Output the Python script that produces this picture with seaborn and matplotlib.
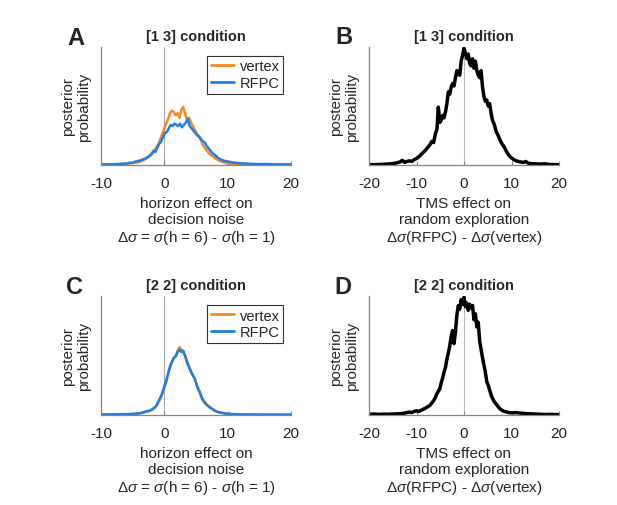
import numpy as np
import pandas as pd
import matplotlib
matplotlib.use("Agg")
import matplotlib.pyplot as plt
import seaborn as sns

# ---- data (normalised posterior, peak of B/D = 1) ----
# panel A: [1 3] condition, horizon effect
a_vertex_x = [-10, -8, -6, -5, -4, -3.5, -3, -2.5, -2, -1.5, -1, -0.6, -0.3,
              0, 0.3, 0.6, 0.9, 1.2, 1.5, 1.8, 2.1, 2.4, 2.7, 3.0, 3.3, 3.6, 3.9,
              4.2, 4.5, 4.8, 5.1, 5.4, 5.7, 6.0, 6.3, 6.6, 6.9, 7.2, 7.5,
              8, 8.5, 9, 9.5, 10, 11, 12, 14, 16, 18, 20]
a_vertex_y = [0.004, 0.006, 0.01, 0.015, 0.025, 0.035, 0.05, 0.07, 0.1, 0.13, 0.17, 0.22, 0.27,
              0.31, 0.35, 0.39, 0.44, 0.46, 0.45, 0.42, 0.44, 0.40, 0.47, 0.49, 0.43, 0.38, 0.40,
              0.36, 0.33, 0.30, 0.27, 0.25, 0.22, 0.18, 0.15, 0.13, 0.11, 0.09, 0.08,
              0.06, 0.04, 0.03, 0.02, 0.012, 0.008, 0.006, 0.004, 0.003, 0.002, 0.002]
a_rfpc_x = [-10, -9, -8, -7, -6, -5.5, -5, -4.5, -4, -3.5, -3, -2.5, -2,
            -1.7, -1.4, -1.1, -0.8, -0.5, -0.2, 0.1, 0.4, 0.7, 1.0, 1.3, 1.6, 1.9, 2.2,
            2.5, 2.8, 3.1, 3.4, 3.7, 4.0, 4.3, 4.6, 4.9, 5.2, 5.5, 5.8, 6.1, 6.4, 6.7,
            7.0, 7.3, 7.6, 8.0, 8.5, 9, 9.5, 10, 10.5, 11,
            12, 13, 14, 15, 16, 17, 18, 19, 20]
a_rfpc_y = [0.004, 0.006, 0.005, 0.009, 0.012, 0.018, 0.02, 0.03, 0.035, 0.045, 0.055, 0.07, 0.09,
            0.12, 0.11, 0.15, 0.18, 0.2, 0.24, 0.27, 0.28, 0.31, 0.34, 0.33, 0.35, 0.34, 0.33,
            0.35, 0.32, 0.34, 0.36, 0.39, 0.33, 0.31, 0.29, 0.27, 0.25, 0.24, 0.22, 0.2, 0.19, 0.16,
            0.14, 0.12, 0.1, 0.085, 0.06, 0.045, 0.035, 0.03, 0.025, 0.02,
            0.015, 0.012, 0.01, 0.008, 0.008, 0.006, 0.005, 0.006, 0.004]

# panel B: [1 3] condition, TMS effect
b_x = [-20, -19, -18, -17, -16, -15,
       -14.5, -14, -13.5, -13, -12.5, -12, -11.5, -11, -10.5, -10, -9.5, -9, -8.5, -8,
       -7.6, -7.2, -6.8, -6.4, -6.0,
       -5.7, -5.4, -5.1, -4.8, -4.5, -4.2, -3.9, -3.6, -3.3, -3.0, -2.7, -2.4, -2.1, -1.8,
       -1.5, -1.2, -0.9, -0.6, -0.3, 0, 0.3, 0.6, 0.9, 1.2, 1.5, 1.8, 2.1, 2.4, 2.7, 3.0,
       3.3, 3.6, 3.9, 4.2, 4.5, 4.8, 5.1, 5.4, 5.7, 6.0,
       6.4, 6.8, 7.2, 7.6, 8.0,
       8.5, 9, 9.5, 10, 10.5, 11, 11.5, 12, 12.5, 13, 13.5, 14,
       15, 16, 17, 18, 19, 20]
b_y = [0.002, 0.003, 0.004, 0.006, 0.008, 0.012,
       0.015, 0.02, 0.025, 0.04, 0.022, 0.03, 0.035, 0.03, 0.045, 0.055, 0.07, 0.09, 0.11, 0.13,
       0.15, 0.17, 0.2, 0.19, 0.27,
       0.3, 0.49, 0.36, 0.38, 0.42, 0.40, 0.45, 0.52, 0.62, 0.60, 0.66, 0.69, 0.67, 0.74,
       0.80, 0.77, 0.76, 0.88, 0.93, 0.99, 0.95, 0.90, 0.94, 0.86, 0.84, 0.90, 0.82, 0.88, 0.80, 0.76,
       0.74, 0.80, 0.66, 0.58, 0.54, 0.55, 0.50, 0.52, 0.44, 0.38,
       0.34, 0.28, 0.25, 0.21, 0.18,
       0.15, 0.11, 0.08, 0.06, 0.045, 0.035, 0.03, 0.025, 0.022, 0.03, 0.015, 0.012,
       0.01, 0.008, 0.01, 0.004, 0.003, 0.002]

# panel C: [2 2] condition, horizon effect
c_x = [-10, -8, -6, -5, -4, -3.5, -3, -2.5, -2, -1.5,
       -1.2, -0.9, -0.6, -0.3, 0, 0.3, 0.6, 0.9, 1.2, 1.5, 1.8, 2.1, 2.4, 2.7, 3.0,
       3.3, 3.6, 3.9, 4.2, 4.5, 4.8, 5.1, 5.4, 5.7, 6.0,
       6.4, 6.8, 7.2, 7.6, 8, 8.5, 9, 9.5, 10, 11, 12, 14, 16, 18, 20]
c_vertex_y = [0.003, 0.004, 0.006, 0.008, 0.012, 0.018, 0.025, 0.03, 0.04, 0.06,
              0.08, 0.11, 0.14, 0.18, 0.23, 0.28, 0.34, 0.40, 0.44, 0.48, 0.50, 0.54, 0.57, 0.55, 0.52,
              0.50, 0.43, 0.41, 0.36, 0.34, 0.30, 0.26, 0.22, 0.17, 0.14,
              0.11, 0.08, 0.06, 0.05, 0.035, 0.025, 0.02, 0.012, 0.01, 0.006, 0.004, 0.003, 0.002, 0.002, 0.002]
c_rfpc_y = [0.004, 0.005, 0.007, 0.009, 0.014, 0.02, 0.028, 0.035, 0.045, 0.065,
            0.085, 0.12, 0.15, 0.19, 0.24, 0.29, 0.35, 0.41, 0.45, 0.48, 0.49, 0.53, 0.55, 0.53, 0.54,
            0.49, 0.45, 0.40, 0.37, 0.33, 0.31, 0.25, 0.21, 0.18, 0.13,
            0.10, 0.08, 0.065, 0.05, 0.035, 0.025, 0.018, 0.014, 0.01, 0.007, 0.005, 0.004, 0.003, 0.003, 0.002]

# panel D: [2 2] condition, TMS effect
d_x = [-20, -19, -18, -17, -16, -15, -14, -13, -12,
       -11.5, -11, -10.5, -10, -9.5, -9, -8.5, -8,
       -7.6, -7.2, -6.8, -6.4, -6.0,
       -5.7, -5.4, -5.1, -4.8, -4.5, -4.2, -3.9, -3.6, -3.3, -3.0, -2.7, -2.4, -2.1, -1.8,
       -1.5, -1.2, -0.9, -0.6, -0.3, 0, 0.3, 0.6, 0.9, 1.2, 1.5, 1.8, 2.1, 2.4, 2.7, 3.0,
       3.3, 3.6, 3.9, 4.2, 4.5, 4.8, 5.1, 5.4, 5.7, 6.0,
       6.4, 6.8, 7.2, 7.6, 8.0, 8.5, 9, 9.5, 10,
       11, 12, 13, 14, 15, 16, 17, 18, 19, 20]
d_y = [0.006, 0.008, 0.005, 0.007, 0.006, 0.008, 0.01, 0.012, 0.02,
       0.025, 0.02, 0.03, 0.035, 0.03, 0.04, 0.05, 0.06,
       0.07, 0.08, 0.1, 0.12, 0.15,
       0.18, 0.2, 0.22, 0.27, 0.31, 0.36, 0.40, 0.47, 0.52, 0.58, 0.66, 0.71, 0.60, 0.70,
       0.84, 0.92, 0.89, 0.97, 0.93, 0.99, 0.91, 0.94, 0.88, 0.93, 0.90, 0.92, 0.80, 0.85, 0.74, 0.78,
       0.62, 0.55, 0.48, 0.42, 0.36, 0.28, 0.25, 0.21, 0.17, 0.14,
       0.11, 0.09, 0.07, 0.05, 0.04, 0.03, 0.025, 0.02, 0.018,
       0.02, 0.015, 0.012, 0.01, 0.008, 0.006, 0.004, 0.005, 0.004, 0.003]

titles = ["[1 3] condition", "[1 3] condition", "[2 2] condition", "[2 2] condition"]
letters = ["A", "B", "C", "D"]
horizon_label = "horizon effect on\ndecision noise\n$\\Delta\\sigma$ = $\\sigma$(h = 6) - $\\sigma$(h = 1)"
tms_label = "TMS effect on\nrandom exploration\n$\\Delta\\sigma$(RFPC) - $\\Delta\\sigma$(vertex)"

ORANGE = "#f08a24"
BLUE = "#1f7fe6"
AXIS_GREY = "#858585"

sns.set_style("ticks")
plt.rcParams["font.family"] = ["Liberation Sans", "DejaVu Sans"]
plt.rcParams["axes.unicode_minus"] = False
plt.rcParams["mathtext.fontset"] = "custom"
plt.rcParams["mathtext.rm"] = "Liberation Sans"
plt.rcParams["mathtext.it"] = "Liberation Sans:italic"

fig = plt.figure(figsize=(6.17, 5.06), dpi=100)
W, H = 617, 506


def make_ax(left, top, right, bottom):
    return fig.add_axes([left / W, 1 - bottom / H, (right - left) / W, (bottom - top) / H])


ax_a = make_ax(101, 48, 291, 166)
ax_b = make_ax(369, 48, 559, 166)
ax_c = make_ax(101, 297, 291, 416)
ax_d = make_ax(369, 297, 559, 416)
axes = [ax_a, ax_b, ax_c, ax_d]

# horizon panels: vertex vs RFPC
df_a = pd.concat([
    pd.DataFrame({"x": a_vertex_x, "y": a_vertex_y, "site": "vertex"}),
    pd.DataFrame({"x": a_rfpc_x, "y": a_rfpc_y, "site": "RFPC"}),
])
df_c = pd.concat([
    pd.DataFrame({"x": c_x, "y": c_vertex_y, "site": "vertex"}),
    pd.DataFrame({"x": c_x, "y": c_rfpc_y, "site": "RFPC"}),
])
for ax, df in [(ax_a, df_a), (ax_c, df_c)]:
    ax.axvline(0, color="#a8a8a8", lw=0.8, zorder=0)
    sns.lineplot(data=df, x="x", y="y", hue="site", palette={"vertex": ORANGE, "RFPC": BLUE},
                 sort=False, estimator=None, lw=1.8, ax=ax)
    ax.set_xlim(-10, 20)
    ax.set_xticks([-10, 0, 10, 20])
    ax.set_xlabel(horizon_label, fontsize=11, linespacing=1.2, labelpad=4)
    leg = ax.legend(loc="upper right", fontsize=10.5, handlelength=1.6, handletextpad=0.4,
                    borderpad=0.25, labelspacing=0.2, fancybox=False, framealpha=1,
                    edgecolor="#333333", borderaxespad=0, bbox_to_anchor=(0.96, 0.925))
    leg.get_frame().set_linewidth(0.8)
    for line in leg.get_lines():
        line.set_linewidth(2)

# TMS difference panels
for ax, xs, ys in [(ax_b, b_x, b_y), (ax_d, d_x, d_y)]:
    ax.axvline(0, color="#b8b8b8", lw=0.8, zorder=0)
    sns.lineplot(x=xs, y=ys, color="black", lw=2.5, sort=False, estimator=None, ax=ax)
    ax.set_xlim(-20, 20)
    ax.set_xticks([-20, -10, 0, 10, 20])
    ax.set_xlabel(tms_label, fontsize=11, linespacing=1.2, labelpad=4)

for ax, title, letter in zip(axes, titles, letters):
    ax.set_ylim(0, 1.0)
    ax.set_yticks([])
    ax.set_ylabel("posterior\nprobability", fontsize=11, linespacing=1.2, labelpad=7)
    ax.set_title(title, fontsize=10.5, fontweight="bold", pad=5)
    ax.tick_params(axis="x", direction="in", length=3, width=0.8, color=AXIS_GREY,
                   labelsize=11, pad=8, labelcolor="#222222")
    sns.despine(ax=ax)
    for side in ["left", "bottom"]:
        ax.spines[side].set_color(AXIS_GREY)
        ax.spines[side].set_linewidth(0.9)

fig.text(67 / W, 1 - 45 / H, "A", fontsize=17, fontweight="bold", va="baseline")
fig.text(335 / W, 1 - 44 / H, "B", fontsize=17, fontweight="bold", va="baseline")
fig.text(66 / W, 1 - 294 / H, "C", fontsize=17, fontweight="bold", va="baseline")
fig.text(334 / W, 1 - 294 / H, "D", fontsize=17, fontweight="bold", va="baseline")

fig.savefig("out.png", dpi=100, facecolor="white")
